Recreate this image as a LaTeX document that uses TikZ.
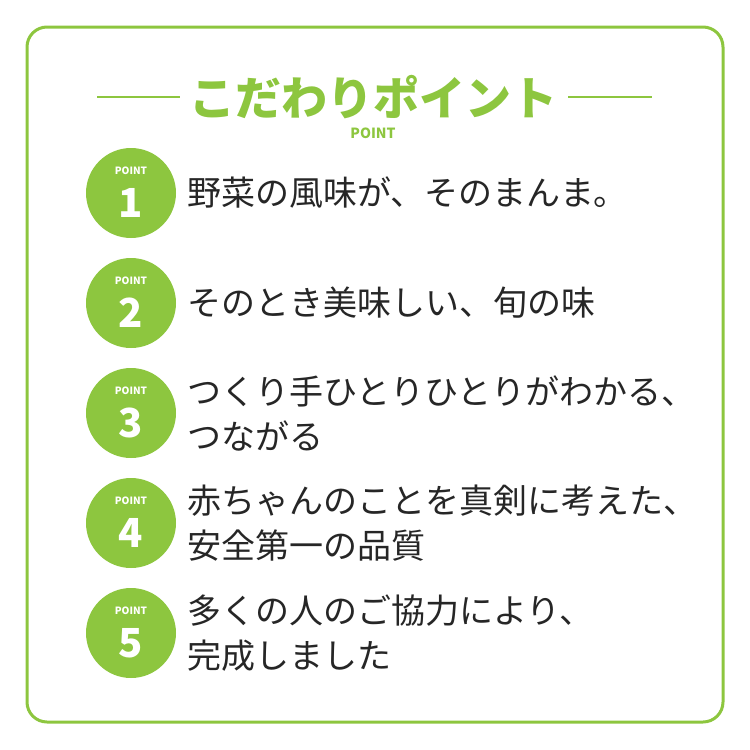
\documentclass[tikz,border=0pt]{standalone}
\usepackage{fontspec}
\setmainfont{Noto Sans CJK JP}
\definecolor{gr}{HTML}{8DC63F}
\tikzset{num/.style={circle,fill=gr,minimum size=90pt,inner sep=0pt},
 item/.style={anchor=west,align=left,inner sep=0pt,font=\fontsize{34}{45}\selectfont,text=black!85}}
\begin{document}
\begin{tikzpicture}[x=1pt,y=-1pt]
\useasboundingbox (0,0) rectangle (750,750);
\draw[gr,line width=3pt,rounded corners=20pt] (27,27) rectangle (723,722);
\node (t) at (373,97) {\color{gr}\fontsize{46}{50}\selectfont\bfseries こだわりポイント};
\draw[gr,line width=1.5pt] (97,97) -- (180,97) (568,97) -- (652,97);
\node (p) at (373,133) {\color{gr}\fontsize{14}{14}\selectfont\bfseries POINT};
\foreach \i/\y in {1/193,2/303,3/413,4/523,5/633}{
 \node[num] (c\i) at (131,\y) {};
 \node[text=white,font=\fontsize{10}{10}\selectfont\bfseries] at (131,\y-22) {POINT};
 \node[text=white,font=\fontsize{40}{40}\selectfont\bfseries] at (131,\y+10) {\i};
}
\node[item] at (187,193) {野菜の風味が、そのまんま。};
\node[item] at (187,303) {そのとき美味しい、旬の味};
\node[item] at (187,413) {つくり手ひとりひとりがわかる、\\つながる};
\node[item] at (187,523) {赤ちゃんのことを真剣に考えた、\\安全第一の品質};
\node[item] at (187,633) {多くの人のご協力により、\\完成しました};
\end{tikzpicture}
\end{document}
